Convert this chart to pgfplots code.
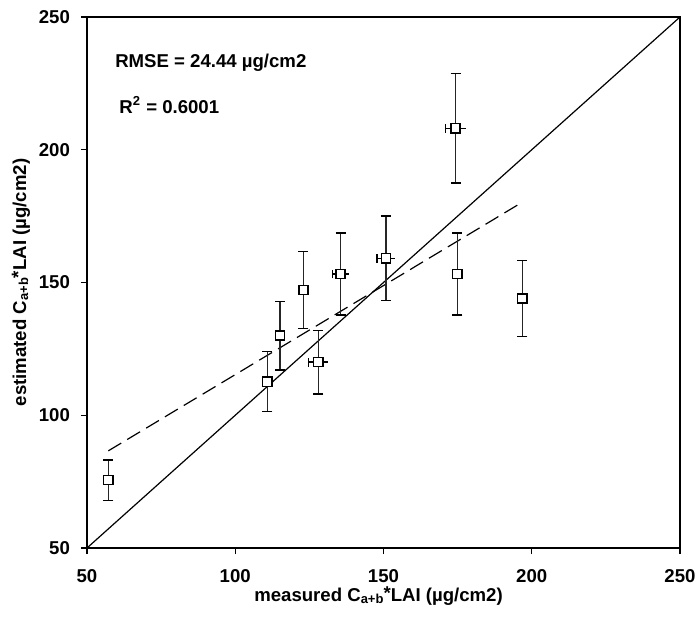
\documentclass[border=0pt]{standalone}
\usepackage{pgfplots}
\pgfplotsset{compat=1.18}
\usepackage{pgfplotstable}
\usepackage{fontspec}
\setmainfont{Liberation Sans}
\pgfplotstableread{
x y ey
57.2 75.6 7.6
110.8 112.6 11.3
115.1 130.0 12.9
123.0 147.2 14.5
128.0 120.0 12.0
135.5 153.2 15.4
150.8 159.1 15.9
174.3 208.1 20.7
174.9 153.2 15.4
196.8 144.0 14.3
}\pts
\pgfplotstableread{
x y ex
128.0 120.0 3.3
135.5 153.2 2.8
150.8 159.1 3.0
174.3 208.1 3.4
}\hpts
\newcommand{\lab}{\fontsize{9.3}{11}\selectfont\bfseries}
\newcommand{\cab}{C\raisebox{-0.2ex}{\fontsize{6.5}{7}\selectfont a+b}\raisebox{0.15ex}{*}LAI}
\begin{document}
\begin{tikzpicture}
\begin{axis}[
  scale only axis,
  width=296.5pt, height=265.5pt,
  xmin=50, xmax=250, ymin=50, ymax=250,
  xtick={50,100,150,200,250}, ytick={50,100,150,200,250},
  tick pos=left, tick align=outside,
  major tick length=3pt,
  tick style={line width=0.7pt, black},
  axis line style={line width=1.2pt},
  /pgf/number format/assume math mode=true,
  every tick label/.append style={font=\lab},
  xticklabel style={yshift=-4pt},
  yticklabel style={xshift=-2pt},
  xlabel={\lab measured \cab{} (µg/cm2)},
  ylabel={\lab estimated \cab{} (µg/cm2)},
  xlabel style={at={(axis description cs:0.4916,-0.0904)}, anchor=center},
  ylabel style={at={(axis description cs:-0.1113,0.5)}, anchor=center},
  clip=false,
]
\addplot[black, line width=0.6pt, forget plot] coordinates {(50,50) (250,250)};
\addplot[black, line width=0.6pt, dash pattern=on 7.5pt off 3.5pt, forget plot] coordinates {(57.2,86.6) (196.6,180.1)};
\addplot[draw=none, mark=none, forget plot,
  error bars/.cd, x dir=minus, x explicit,
  error bar style={line width=0.7pt, black},
  error mark options={line width=0.7pt, mark size=2.2pt, rotate=90}]
  table[x=x, y=y, x error=ex] {\hpts};
\addplot[draw=none, mark=none, forget plot,
  error bars/.cd, x dir=plus, x explicit,
  error bar style={line width=0.7pt, black},
  error mark=none]
  table[x=x, y=y, x error=ex] {\hpts};
\addplot[only marks, mark=square*, mark size=2.3pt,
  mark options={fill=white, draw=black, line width=0.7pt},
  error bars/.cd, y dir=both, y explicit,
  error bar style={line width=0.7pt, black!85},
  error mark options={line width=0.7pt, mark size=2.5pt, rotate=90, black}]
  table[x=x, y=y, y error=ey] {\pts};
\node[anchor=base west, inner sep=0pt, font=\lab] at (axis cs:59.4,230.8) {RMSE = 24.44 µg/cm2};
\node[anchor=base west, inner sep=0pt, font=\lab] at (axis cs:60.8,213.8) {R\textsuperscript{2} = 0.6001};
\end{axis}
\pgfresetboundingbox
\path (current axis.south west) ++(-43.5pt,-36pt) coordinate (bl);
\path (current axis.north east) ++(10pt,8.5pt) coordinate (tr);
\path (bl) rectangle (tr);
\end{tikzpicture}
\end{document}
